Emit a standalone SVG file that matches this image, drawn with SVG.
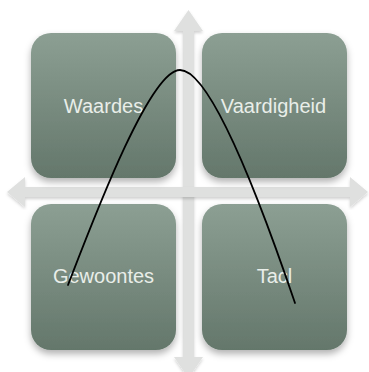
<svg xmlns="http://www.w3.org/2000/svg" width="369" height="372" viewBox="0 0 369 372">
  <defs>
    <linearGradient id="boxGrad" x1="0" y1="0" x2="0" y2="1">
      <stop offset="0" stop-color="#8c9f93"/>
      <stop offset="1" stop-color="#64776b"/>
    </linearGradient>
    <filter id="boxShadow" x="-20%" y="-20%" width="140%" height="145%">
      <feDropShadow dx="0" dy="4" stdDeviation="3.5" flood-color="#000" flood-opacity="0.3"/>
    </filter>
    <filter id="arrowShadow" x="-10%" y="-10%" width="120%" height="120%">
      <feDropShadow dx="0" dy="2" stdDeviation="1.5" flood-color="#000" flood-opacity="0.18"/>
    </filter>
  </defs>
  <style>
    .box { fill: url(#boxGrad); filter: url(#boxShadow); }
    .label { font-family: "Liberation Sans", Arial, sans-serif; font-size: 20px; fill: #e9eee9; text-anchor: middle; }
    .arrow { fill: #dfe0df; filter: url(#arrowShadow); }
    .curve { fill: none; stroke: #000; stroke-width: 1.8; stroke-linecap: round; }
  </style>
  <rect width="369" height="372" fill="#ffffff"/>
  <g id="axes">
    <polygon class="arrow" points="188.5,10 203,31 194,31 194,357 203,357 188.5,378 174,357 183,357 183,31 174,31"/>
    <polygon class="arrow" points="7,192 25,177 25,187 350,187 350,177 368,192 350,207 350,197 25,197 25,207"/>
  </g>
  <g id="node-waardes">
    <rect class="box" x="31" y="33" width="145" height="145" rx="20"/>
    <text class="label" x="103.5" y="113">Waardes</text>
  </g>
  <g id="node-vaardigheid">
    <rect class="box" x="202" y="33" width="145" height="145" rx="20"/>
    <text class="label" x="273.5" y="113">Vaardigheid</text>
  </g>
  <g id="node-gewoontes">
    <rect class="box" x="31" y="204" width="145" height="146" rx="20"/>
    <text class="label" x="103.5" y="283">Gewoontes</text>
  </g>
  <g id="node-taal">
    <rect class="box" x="202" y="204" width="145" height="146" rx="20"/>
    <text class="label" x="274.5" y="283">Tacl</text>
  </g>
  <g id="connectors">
    <path class="curve" d="M68,285 C95,215 150,70 180,70 C212,70 265,215 295,303"/>
  </g>
</svg>
